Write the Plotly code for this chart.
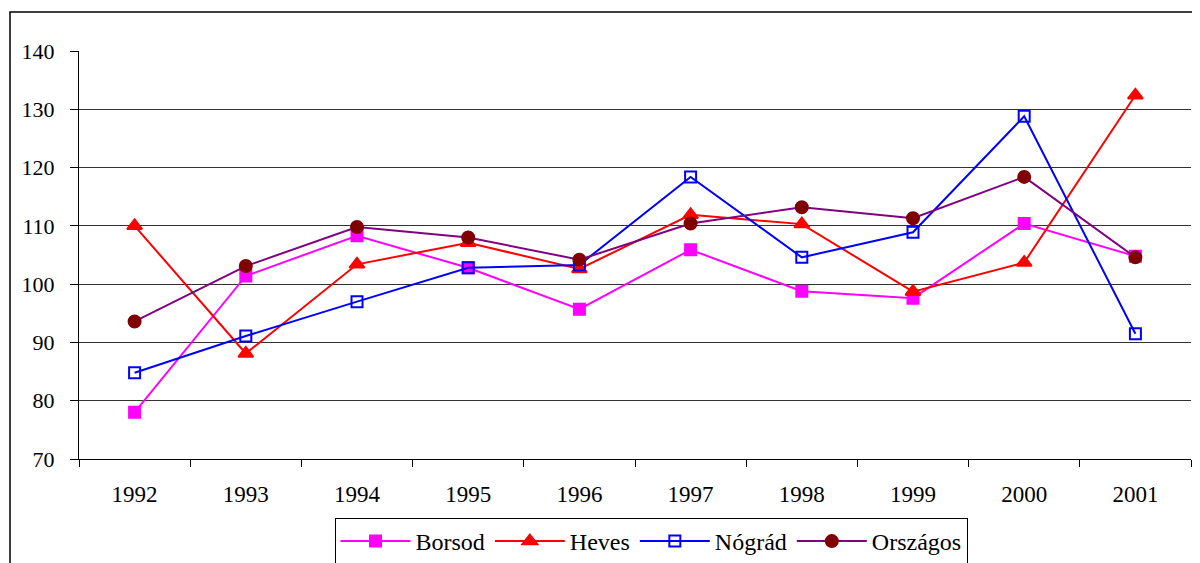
import plotly.graph_objects as go

years = ["1992", "1993", "1994", "1995", "1996", "1997", "1998", "1999", "2000", "2001"]
borsod = [78.0, 101.4, 108.3, 102.8, 95.7, 105.9, 98.8, 97.6, 110.4, 104.8]
heves = [110.0, 88.1, 103.4, 107.1, 102.6, 111.9, 110.3, 98.7, 103.7, 132.4]
nograd = [84.8, 91.1, 97.0, 102.8, 103.3, 118.4, 104.6, 108.9, 128.8, 91.5]
orszagos = [93.6, 103.1, 109.8, 108.0, 104.2, 110.4, 113.2, 111.3, 118.4, 104.6]

series = [
    ("Borsod", borsod, "#FF00FF", "square", "#FF00FF", "#FF00FF", 11),
    ("Heves", heves, "#FF0000", "triangle-up", "#FF0000", "#FF0000", 13),
    ("Nógrád", nograd, "#0000FF", "square-open", "#0000FF", "#0000FF", 11),
    ("Országos", orszagos, "#800080", "circle", "#800000", "#800000", 12),
]

fig = go.Figure()
for name, vals, lc, sym, mc, mlc, ms in series:
    fig.add_trace(go.Scatter(
        x=years, y=vals, name=name, mode="lines+markers",
        line=dict(color=lc, width=2),
        marker=dict(symbol=sym, color=mc, size=ms, line=dict(color=mlc, width=2)),
    ))

font_family = "Liberation Serif, Times New Roman, serif"
OFF = 8  # page body margin
W, H = 1200 - OFF, 640
# plot area in page pixels: x 79..1191, y 51..459
ml = 79 - OFF
mt = 51 - OFF
mr = W - (1191 - OFF)
mb = H - (459 - OFF)
pw, ph = W - ml - mr, H - mt - mb

def px_x(p):
    return (p - OFF - ml) / pw

def px_y(p):
    return (H - mb - (p - OFF)) / ph

fig.update_layout(
    width=W, height=H,
    margin=dict(l=ml, r=mr, t=mt, b=mb),
    paper_bgcolor="white", plot_bgcolor="white",
    font=dict(family=font_family, size=22, color="black"),
    showlegend=True,
    legend=dict(
        orientation="h", x=px_x(651), xanchor="center", y=px_y(518), yanchor="top",
        bordercolor="black", borderwidth=1, font=dict(size=24, family=font_family),
        itemwidth=70, tracegroupgap=0,
    ),
    xaxis=dict(
        type="category", showgrid=False, showline=True, linecolor="black", linewidth=1,
        ticks="outside", ticklen=7, tickcolor="black", tickson="boundaries",
        tickfont=dict(size=23, family=font_family), range=[-0.5, 9.5],
        ticklabelstandoff=14,
    ),
    yaxis=dict(
        range=[70, 140], dtick=10, showgrid=True, gridcolor="#333333", gridwidth=1,
        showline=True, linecolor="black", linewidth=1, ticks="outside", ticklen=8,
        tickcolor="black", tickfont=dict(size=22, family=font_family), zeroline=False,
        ticklabelstandoff=11,
    ),
    shapes=[
        dict(type="rect", xref="paper", yref="paper",
             x0=px_x(10), x1=px_x(1215), y0=px_y(600), y1=px_y(12),
             line=dict(color="black", width=1.5), fillcolor="rgba(0,0,0,0)", layer="below"),
    ],
)

fig.write_html("out.html")
